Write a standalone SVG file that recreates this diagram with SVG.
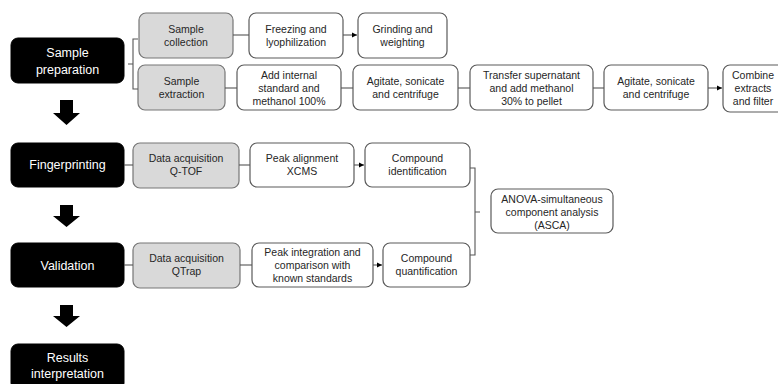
<svg xmlns="http://www.w3.org/2000/svg" width="778" height="384" viewBox="0 0 778 384">
<style>
.blk{fill:#000;stroke:#000;stroke-width:1}
.gry{fill:#d9d9d9;stroke:#767676;stroke-width:1.2}
.wht{fill:#fff;stroke:#5a5a5a;stroke-width:1.2}
.tb{font-family:"Liberation Sans",Arial,sans-serif;font-size:12.5px;fill:#fff;text-anchor:middle}
.t{font-family:"Liberation Sans",Arial,sans-serif;font-size:10.5px;fill:#262626;text-anchor:middle}
.ln{fill:none;stroke:#555;stroke-width:1.1}
.dn{fill:#000}
</style>
<defs>
<marker id="ah" markerWidth="6" markerHeight="6" refX="5" refY="3" orient="auto" markerUnits="userSpaceOnUse">
<path d="M0,0.5 L5,3 L0,5.5 Z" fill="#000"/>
</marker>
</defs>

<g id="sample-preparation"><rect class="blk" x="11" y="38" width="113" height="45" rx="7"/><text class="tb" x="67.5" y="57">Sample</text><text class="tb" x="67.5" y="74">preparation</text></g>
<g id="fingerprinting"><rect class="blk" x="11" y="143" width="113" height="44" rx="7"/><text class="tb" x="67.5" y="169">Fingerprinting</text></g>
<g id="validation"><rect class="blk" x="11" y="243" width="113" height="44" rx="7"/><text class="tb" x="67.5" y="269.5">Validation</text></g>
<g id="results"><rect class="blk" x="11" y="344" width="113" height="46" rx="7"/><text class="tb" x="67.5" y="362">Results</text><text class="tb" x="67.5" y="377.5">interpretation</text></g>

<g id="arrows-down">
<path class="dn" d="M60,100 H73 V113 H80 L66.5,125 L53,113 H60 Z"/>
<path class="dn" d="M60,205 H73 V216 H80 L66.5,227 L53,216 H60 Z"/>
<path class="dn" d="M60,305 H73 V316 H80 L66.5,327 L53,316 H60 Z"/>
</g>

<g id="sample-collection"><rect class="gry" x="139" y="13" width="94" height="45" rx="7"/><text class="t" x="186" y="33">Sample</text><text class="t" x="186" y="46">collection</text></g>
<g id="sample-extraction"><rect class="gry" x="138" y="65" width="87" height="45" rx="7"/><text class="t" x="181.5" y="85">Sample</text><text class="t" x="181.5" y="98">extraction</text></g>
<g id="freezing"><rect class="wht" x="249" y="13" width="94" height="45" rx="7"/><text class="t" x="296" y="33">Freezing and</text><text class="t" x="296" y="46">lyophilization</text></g>
<g id="grinding"><rect class="wht" x="358" y="13" width="89" height="45" rx="7"/><text class="t" x="402.5" y="33">Grinding and</text><text class="t" x="402.5" y="46">weighting</text></g>
<g id="add-internal"><rect class="wht" x="237" y="65" width="104" height="45" rx="7"/><text class="t" x="289" y="79">Add internal</text><text class="t" x="289" y="92">standard and</text><text class="t" x="289" y="105">methanol 100%</text></g>
<g id="agitate1"><rect class="wht" x="353" y="65" width="105" height="45" rx="7"/><text class="t" x="405.5" y="85">Agitate, sonicate</text><text class="t" x="405.5" y="98">and centrifuge</text></g>
<g id="transfer"><rect class="wht" x="470" y="65" width="123" height="45" rx="7"/><text class="t" x="531.5" y="79">Transfer supernatant</text><text class="t" x="531.5" y="92">and add methanol</text><text class="t" x="531.5" y="105">30% to pellet</text></g>
<g id="agitate2"><rect class="wht" x="604" y="65" width="104" height="45" rx="7"/><text class="t" x="656" y="85">Agitate, sonicate</text><text class="t" x="656" y="98">and centrifuge</text></g>
<g id="combine"><rect class="wht" x="723" y="65" width="62" height="47" rx="7"/><text class="t" x="753" y="79">Combine</text><text class="t" x="753" y="92">extracts</text><text class="t" x="753" y="105">and filter</text></g>

<g id="da-qtof"><rect class="gry" x="133" y="143" width="106" height="45" rx="7"/><text class="t" x="186" y="162">Data acquisition</text><text class="t" x="186" y="175">Q-TOF</text></g>
<g id="peak-alignment"><rect class="wht" x="250" y="143" width="104" height="44" rx="7"/><text class="t" x="302" y="162">Peak alignment</text><text class="t" x="302" y="175">XCMS</text></g>
<g id="compound-id"><rect class="wht" x="365" y="143" width="105" height="44" rx="7"/><text class="t" x="417.5" y="162">Compound</text><text class="t" x="417.5" y="175">identification</text></g>
<g id="asca"><rect class="wht" x="491" y="189" width="122" height="44" rx="7"/><text class="t" x="552" y="203">ANOVA-simultaneous</text><text class="t" x="552" y="216">component analysis</text><text class="t" x="552" y="229">(ASCA)</text></g>
<g id="da-qtrap"><rect class="gry" x="133" y="243" width="107" height="45" rx="7"/><text class="t" x="186.5" y="262">Data acquisition</text><text class="t" x="186.5" y="275">QTrap</text></g>
<g id="peak-integration"><rect class="wht" x="252" y="243" width="121" height="44" rx="7"/><text class="t" x="312.5" y="256">Peak integration and</text><text class="t" x="312.5" y="269">comparison with</text><text class="t" x="312.5" y="282">known standards</text></g>
<g id="compound-quant"><rect class="wht" x="383" y="243" width="87" height="44" rx="7"/><text class="t" x="426.5" y="262">Compound</text><text class="t" x="426.5" y="275">quantification</text></g>

<g id="connectors">
<path class="ln" d="M128,64 H133 M138,39 H133 V89 H138"/>
<path class="ln" d="M233,35 H249"/>
<path class="ln" d="M343,35 H357" marker-end="url(#ah)"/>
<path class="ln" d="M225,88 H237"/>
<path class="ln" d="M341,88 H353"/>
<path class="ln" d="M458,88 H470"/>
<path class="ln" d="M593,88 H604"/>
<path class="ln" d="M708,88 H722" marker-end="url(#ah)"/>
<path class="ln" d="M124,165 H133"/>
<path class="ln" d="M239,165 H250"/>
<path class="ln" d="M354,165 H364" marker-end="url(#ah)"/>
<path class="ln" d="M124,265 H133"/>
<path class="ln" d="M240,265 H252"/>
<path class="ln" d="M373,265 H382" marker-end="url(#ah)"/>
<path class="ln" d="M470,168 H475 V255 H470 M475,212 H480"/>
</g>
</svg>
